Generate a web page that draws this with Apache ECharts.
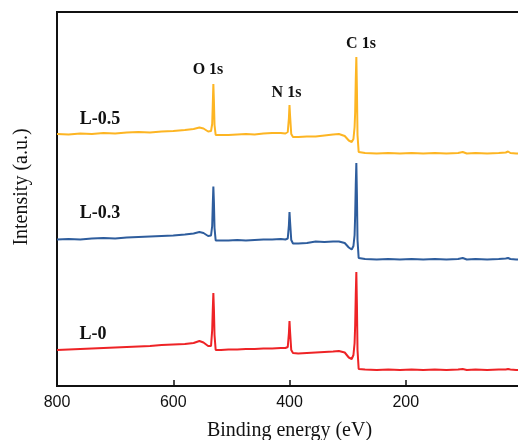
<!DOCTYPE html>
<html>
<head>
<meta charset="utf-8">
<script src="https://cdn.jsdelivr.net/npm/echarts@6/dist/echarts.min.js"></script>
<style>
  html, body { margin: 0; padding: 0; background: #fff; }
  #chart { width: 518px; height: 440px; }
</style>
</head>
<body>
<div id="chart"></div>
<script>
// XPS survey spectra, binding energy in eV (shared grid, high to low)
const energy = [
  800, 780, 760, 740, 720, 700, 680, 660, 640, 620, 600, 580,
  565, 555, 548, 540, 535,
  533, 532, 531, 530, 529,
  527, 524, 518,
  505, 490, 475, 460, 445, 430, 415, 407, 403,
  401, 400, 399, 397, 394,
  385, 370, 355, 340, 325, 315, 305,
  298, 293, 290, 288, 287, 286, 285, 284, 283, 281, 278,
  270, 250, 230, 210, 190, 170, 150, 130, 110,
  102, 95, 80, 60, 40, 28, 24, 20, 10, 0
];

// Intensities (a.u.), each trace stacked at its own offset
const intensityL05 = [
  252, 251.5, 252.5, 252, 253, 252.5, 253.5, 254, 253.5, 254.5, 255, 256,
  257, 258.5, 257.5, 254.5, 255,
  262, 281, 302, 284, 261,
  251, 250, 251,
  251, 251.5, 252, 251.5, 252.5, 253, 253, 252.5, 254,
  268, 281, 270, 252, 249,
  249, 249.5, 249.5, 250.5, 251.5, 252, 250,
  245.5, 244, 247, 259, 274, 306, 329, 296, 251, 234, 232.5,
  233, 232.5, 233, 232.5, 233, 232.5, 233, 232.5, 233,
  234, 232.5, 233, 232.5, 233, 233.5, 234.5, 233, 232.5, 232.5
];

const intensityL03 = [
  146.5, 147, 146.5, 147.5, 148, 147.5, 148.5, 149, 149.5, 150, 150.5, 151.5,
  152.5, 154, 153, 150, 150.5,
  160, 181, 199.5, 183, 158,
  145.5, 145, 145.5,
  145.5, 146, 145.5, 146, 146.5, 146.5, 147, 146.5, 147.5,
  161, 174, 164, 146, 142.5,
  142.5, 143, 144.5, 144, 144.5, 144.5, 143,
  138.5, 136.5, 140, 151, 171, 201, 223, 191, 146, 128, 126.5,
  127, 126.5, 127, 126.5, 127, 126.5, 127, 126.5, 127,
  128, 126.5, 127, 126.5, 127, 127.5, 128, 127, 126.5, 126.5
];

const intensityL0 = [
  36, 36.5, 37, 37.5, 38, 38.5, 39, 39.5, 40, 41, 41.5, 42,
  43, 45, 43.5, 40, 40,
  56, 76, 93, 76, 51,
  36, 35.5, 36,
  36.5, 36.5, 37, 37, 37.5, 37.5, 38, 38, 39,
  53, 65, 54, 36, 33,
  32.5, 33, 33.5, 34, 34.5, 35, 33.5,
  28.5, 27, 31, 43, 61, 91, 114, 81, 36, 17, 16,
  16.5, 16, 16.5, 16, 16.5, 16, 16.5, 16, 16.5,
  17, 16, 16.5, 16, 16.5, 16.5, 17, 16.5, 16, 16
];

const sampleNames = ['L-0.5', 'L-0.3', 'L-0'];
const sampleColors = ['#FDB523', '#2E5D9D', '#EE2326'];
const tickValues = [800, 600, 400, 200];

const pairs = (ys) => energy.map((e, i) => [e, ys[i]]);
const seriesData = [intensityL05, intensityL03, intensityL0];

const chart = echarts.init(document.getElementById('chart'), null, { renderer: 'canvas' });

const serif = '"Liberation Serif", "Times New Roman", serif';

chart.setOption({
  animation: false,
  backgroundColor: '#ffffff',
  grid: {
    left: 57, right: -4, top: 12, bottom: 54,
    containLabel: false,
    outerBoundsMode: 'none',
    show: true, borderColor: '#111', borderWidth: 2, backgroundColor: 'transparent'
  },
  xAxis: {
    type: 'value',
    min: 0, max: 800, interval: 200, inverse: true,
    name: 'Binding energy (eV)',
    nameLocation: 'middle',
    nameGap: 35,
    nameTextStyle: { fontFamily: serif, fontSize: 20, color: '#111' },
    axisLine: { show: true, lineStyle: { color: '#111', width: 2 } },
    axisTick: { show: true, inside: true, length: 6, lineStyle: { color: '#111', width: 1.5 } },
    axisLabel: {
      margin: 9,
      fontFamily: '"Liberation Sans", Arial, sans-serif', fontSize: 16, color: '#111',
      formatter: (v) => tickValues.includes(v) ? String(v) : ''
    },
    splitLine: { show: false }
  },
  yAxis: {
    type: 'value',
    min: 0, max: 374,
    axisLine: { show: true, lineStyle: { color: '#111', width: 2 } },
    axisTick: { show: false },
    axisLabel: { show: false },
    splitLine: { show: false }
  },
  series: seriesData.map((ys, k) => ({
    name: sampleNames[k],
    type: 'line',
    data: pairs(ys),
    showSymbol: false,
    smooth: false,
    lineStyle: { color: sampleColors[k], width: 2 },
    z: 3 + k
  })),
  graphic: [
    { type: 'text', x: 22, y: 187, rotation: Math.PI / 2,
      style: { text: 'Intensity (a.u.)', font: '20px ' + serif, fill: '#111', align: 'center', verticalAlign: 'middle' } },
    { type: 'text', x: 100, y: 119,
      style: { text: 'L-0.5', font: 'bold 18px ' + serif, fill: '#111', align: 'center', verticalAlign: 'middle' } },
    { type: 'text', x: 100, y: 213,
      style: { text: 'L-0.3', font: 'bold 18px ' + serif, fill: '#111', align: 'center', verticalAlign: 'middle' } },
    { type: 'text', x: 93, y: 334,
      style: { text: 'L-0', font: 'bold 18px ' + serif, fill: '#111', align: 'center', verticalAlign: 'middle' } },
    { type: 'text', x: 208, y: 70,
      style: { text: 'O 1s', font: 'bold 16px ' + serif, fill: '#111', align: 'center', verticalAlign: 'middle' } },
    { type: 'text', x: 286.5, y: 93,
      style: { text: 'N 1s', font: 'bold 16px ' + serif, fill: '#111', align: 'center', verticalAlign: 'middle' } },
    { type: 'text', x: 361, y: 44,
      style: { text: 'C 1s', font: 'bold 16px ' + serif, fill: '#111', align: 'center', verticalAlign: 'middle' } }
  ]
});
</script>
</body>
</html>
